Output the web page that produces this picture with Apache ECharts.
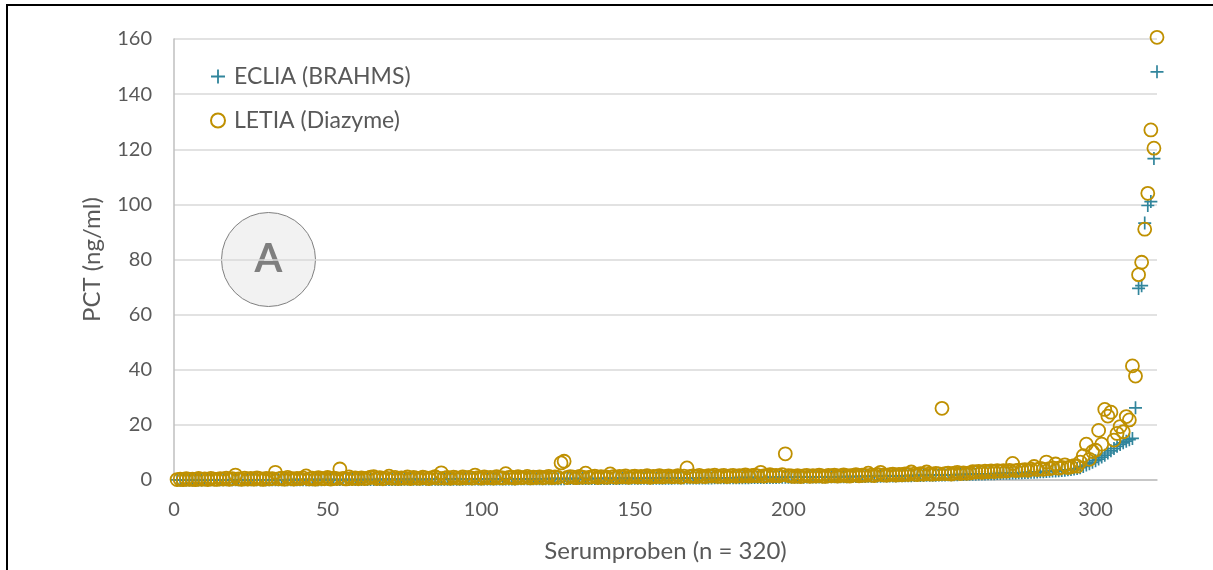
<!DOCTYPE html>
<html>
<head>
<meta charset="utf-8">
<script src="https://cdn.jsdelivr.net/npm/echarts@6/dist/echarts.min.js"></script>
<style>
  html, body { margin: 0; padding: 0; background: #ffffff; }
  #chart { width: 1213px; height: 570px; }
</style>
</head>
<body>
<div id="chart"></div>
<script>
// PCT (ng/ml) per serum sample, samples ordered by the ECLIA result
const seriesNames = ['ECLIA (BRAHMS)', 'LETIA (Diazyme)'];

const ecliaValues = [
  0.02,0.02,0.03,0.03,0.03,0.04,0.04,0.04,0.04,0.05,0.05,0.05,0.05,0.05,0.06,0.06,0.06,0.06,0.06,0.07,
  0.07,0.07,0.07,0.07,0.08,0.08,0.08,0.08,0.08,0.09,0.09,0.09,0.09,0.10,0.10,0.10,0.10,0.11,0.11,0.11,
  0.11,0.12,0.12,0.12,0.12,0.13,0.13,0.13,0.14,0.14,0.14,0.15,0.15,0.15,0.16,0.16,0.16,0.17,0.17,0.17,
  0.18,0.18,0.18,0.19,0.19,0.19,0.20,0.20,0.20,0.21,0.21,0.22,0.22,0.22,0.23,0.23,0.24,0.24,0.24,0.25,
  0.25,0.26,0.26,0.27,0.27,0.27,0.28,0.28,0.29,0.29,0.30,0.30,0.31,0.31,0.32,0.32,0.33,0.33,0.34,0.34,
  0.35,0.35,0.36,0.36,0.37,0.37,0.38,0.38,0.39,0.40,0.40,0.41,0.41,0.42,0.43,0.43,0.44,0.45,0.45,0.46,
  0.46,0.47,0.47,0.48,0.48,0.49,0.49,0.50,0.50,0.51,0.51,0.52,0.52,0.53,0.53,0.54,0.54,0.55,0.55,0.56,
  0.56,0.57,0.57,0.58,0.58,0.59,0.60,0.60,0.61,0.61,0.62,0.62,0.63,0.64,0.64,0.65,0.65,0.66,0.67,0.67,
  0.68,0.68,0.69,0.70,0.70,0.71,0.72,0.72,0.73,0.74,0.74,0.75,0.76,0.76,0.77,0.78,0.79,0.79,0.80,0.81,
  0.82,0.82,0.83,0.84,0.85,0.86,0.86,0.87,0.88,0.89,0.90,0.91,0.92,0.93,0.94,0.95,0.96,0.97,0.98,0.99,
  1.00,1.01,1.02,1.03,1.04,1.05,1.06,1.08,1.09,1.10,1.11,1.12,1.14,1.15,1.16,1.18,1.19,1.20,1.22,1.23,
  1.25,1.26,1.28,1.29,1.31,1.32,1.34,1.36,1.37,1.39,1.41,1.43,1.45,1.46,1.48,1.50,1.52,1.54,1.56,1.58,
  1.60,1.62,1.65,1.67,1.69,1.71,1.74,1.76,1.78,1.81,1.83,1.86,1.88,1.91,1.94,1.96,1.99,2.02,2.05,2.08,
  2.11,2.14,2.17,2.20,2.23,2.27,2.30,2.34,2.37,2.41,2.45,2.49,2.53,2.57,2.61,2.66,2.70,2.75,2.80,2.85,
  2.90,2.96,3.02,3.08,3.15,3.22,3.30,3.38,3.47,3.57,3.68,3.80,3.95,4.15,4.45,4.90,5.40,5.90,6.40,7.00,
  7.60,8.30,9.00,9.80,10.6,11.4,12.2,12.9,13.5,14.1,14.6,15.1,26.2,69.5,70.5,93.2,99.6,101.0,116.6,148.1
];

const letiaValues = [
  0.15,0.30,0.12,0.45,0.20,0.35,0.10,0.55,0.25,0.40,0.18,0.60,0.30,0.22,0.50,0.35,0.70,0.28,0.45,1.80,
  0.40,0.25,0.65,0.35,0.55,0.30,0.80,0.45,0.20,0.60,0.38,0.50,2.80,0.42,0.70,0.30,0.95,0.55,0.35,0.60,
  0.48,0.75,1.50,0.40,0.65,0.30,0.85,0.55,0.45,0.90,0.35,0.70,0.50,4.00,0.60,0.40,1.10,0.55,0.75,0.45,
  0.80,0.50,0.65,1.00,1.20,0.55,0.85,0.45,0.70,1.40,0.60,0.95,0.50,0.80,0.65,1.10,0.55,0.90,0.70,0.60,
  1.00,0.75,0.55,0.85,1.20,0.65,2.60,0.70,0.90,0.60,1.05,0.80,0.65,1.15,0.75,0.95,0.70,1.80,0.85,0.65,
  1.10,0.80,0.95,0.70,1.25,0.85,0.75,2.30,0.90,1.00,0.70,1.20,0.85,0.95,1.30,0.75,1.05,0.90,1.15,0.80,
  1.00,1.35,0.85,1.10,0.95,6.20,6.80,0.90,1.20,1.05,0.85,1.30,1.00,2.50,0.95,1.15,1.40,0.90,1.25,1.05,
  1.00,2.20,1.20,0.95,1.35,1.10,1.50,0.95,1.25,1.40,1.05,1.30,1.15,1.55,1.00,1.35,1.20,1.60,1.10,1.30,
  1.45,1.15,1.25,1.60,1.05,1.40,4.40,1.30,1.50,1.20,1.70,1.35,1.25,1.55,1.40,1.80,1.30,1.45,1.65,1.25,
  1.50,1.70,1.35,1.60,1.45,1.85,1.40,1.55,1.75,1.50,2.80,1.45,1.65,1.90,1.55,1.70,1.50,1.95,9.50,1.60,
  1.45,1.30,1.60,1.25,1.50,1.70,1.35,1.55,1.40,1.75,1.45,1.30,1.65,1.50,1.80,1.40,1.60,1.85,1.55,1.45,
  1.70,1.90,1.55,1.80,1.65,2.50,1.75,1.60,2.00,2.80,1.85,1.70,1.95,2.10,1.80,2.05,1.90,2.20,2.00,2.90,
  2.10,1.95,2.30,2.05,2.90,2.20,2.10,2.40,2.25,26.0,2.30,2.50,2.15,2.45,2.80,2.35,2.60,2.40,2.55,3.00,
  2.90,3.10,2.80,3.20,3.00,3.30,2.95,3.40,3.15,3.35,3.25,3.50,6.00,3.40,3.60,3.55,3.80,3.50,3.90,4.90,
  3.80,4.20,3.90,6.50,4.10,4.40,5.80,4.30,4.60,5.50,4.50,4.80,5.20,5.00,6.50,8.80,13.0,7.50,10.3,10.8,
  18.0,13.0,25.6,23.2,24.6,14.5,16.9,19.4,17.5,23.0,21.8,41.4,37.7,74.5,79.0,91.0,104.0,127.0,120.4,160.6
];

const xTicks = { min: 0, max: 320, step: 50 };
const yTicks = { min: 0, max: 160, step: 20 };
const axisTitles = { x: 'Serumproben (n = 320)', y: 'PCT (ng/ml)' };
const panelLabel = 'A';

// pair each value with its sample number (1..n)
const toPoints = vals => vals.map((v, i) => [i + 1, v]);

const FONT = 'Lato, "Open Sans", sans-serif';
const TEXT = '#595959';
const TEAL = '#31859C';
const GOLD = '#BF9000';
const PLUS = 'path://M-1,-0.13L1,-0.13L1,0.13L-1,0.13Z M-0.13,-1L0.13,-1L0.13,1L-0.13,1Z';

const chart = echarts.init(document.getElementById('chart'), null, { renderer: 'canvas' });

chart.setOption({
  animation: false,
  backgroundColor: '#ffffff',
  textStyle: { fontFamily: FONT },
  grid: { left: 174, right: 56, top: 39, bottom: 90, containLabel: false },
  xAxis: {
    type: 'value',
    min: xTicks.min, max: xTicks.max, interval: xTicks.step,
    name: axisTitles.x, nameLocation: 'middle', nameGap: 59,
    nameTextStyle: { color: TEXT, fontSize: 24, fontFamily: FONT },
    axisLine: { show: true, lineStyle: { color: '#BFBFBF', width: 1.5 } },
    axisTick: { show: false },
    splitLine: { show: false },
    axisLabel: { color: TEXT, fontSize: 20, fontFamily: FONT, margin: 20, showMaxLabel: false }
  },
  yAxis: {
    type: 'value',
    min: yTicks.min, max: yTicks.max, interval: yTicks.step,
    name: axisTitles.y, nameLocation: 'middle', nameGap: 70, nameRotate: 90,
    nameTextStyle: { color: TEXT, fontSize: 24, fontFamily: FONT },
    axisLine: { show: true, lineStyle: { color: '#BFBFBF', width: 1.5 } },
    axisTick: { show: false },
    splitLine: { show: true, lineStyle: { color: '#D9D9D9', width: 1.5 } },
    axisLabel: { color: TEXT, fontSize: 20, fontFamily: FONT, margin: 22 }
  },
  legend: {
    orient: 'vertical',
    left: 205, top: 60,
    itemWidth: 14, itemHeight: 14, itemGap: 21,
    textStyle: { color: TEXT, fontSize: 23, fontFamily: FONT, padding: [0, 0, 0, 4] },
    data: [
      { name: seriesNames[0], icon: PLUS },
      { name: seriesNames[1], icon: 'circle' }
    ]
  },
  series: [
    {
      name: seriesNames[0],
      type: 'scatter',
      symbol: PLUS,
      symbolSize: 13,
      clip: false,
      itemStyle: { color: TEAL, opacity: 1 },
      data: toPoints(ecliaValues),
      z: 2
    },
    {
      name: seriesNames[1],
      type: 'scatter',
      symbol: 'circle',
      symbolSize: 13,
      clip: false,
      itemStyle: { color: 'rgba(0,0,0,0)', borderColor: GOLD, borderWidth: 1.8, opacity: 1 },
      data: toPoints(letiaValues),
      z: 3
    }
  ],
  graphic: [
    // panel badge
    {
      type: 'group', left: 221, top: 212,
      children: [
        { type: 'circle', shape: { cx: 47, cy: 47, r: 47 },
          style: { fill: '#F2F2F2', stroke: '#808080', lineWidth: 1 } },
        { type: 'text', x: 47, y: 47,
          style: { text: panelLabel, fill: '#7F7F7F', font: 'bold 40px ' + FONT,
                   align: 'center', verticalAlign: 'middle' } }
      ]
    },
    // outer frame (top and left edges)
    { type: 'line', shape: { x1: 6, y1: 5, x2: 1213, y2: 5 }, style: { stroke: '#000', lineWidth: 2 } },
    { type: 'line', shape: { x1: 7, y1: 4, x2: 7, y2: 570 }, style: { stroke: '#000', lineWidth: 2 } }
  ]
});
</script>
</body>
</html>
